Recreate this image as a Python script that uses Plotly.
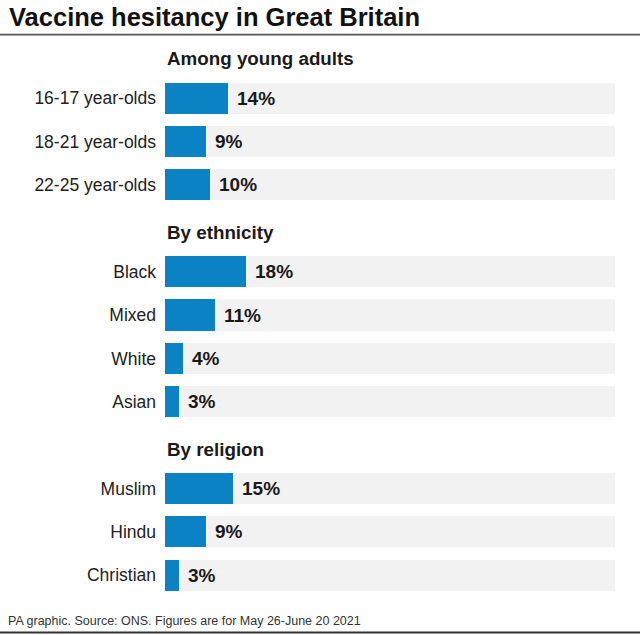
import plotly.graph_objects as go

# ---- data ----
groups = ["Among young adults", "By ethnicity", "By religion"]
group_items = [
    ["16-17 year-olds", "18-21 year-olds", "22-25 year-olds"],
    ["Black", "Mixed", "White", "Asian"],
    ["Muslim", "Hindu", "Christian"],
]
group_values = [
    [14, 9, 10],
    [18, 11, 4, 3],
    [15, 9, 3],
]
full_scale = 100

title = "Vaccine hesitancy in Great Britain"
source = "PA graphic. Source: ONS. Figures are for May 26-June 20 2021"

# ---- build category order (heading rows + item rows) ----
cat_order = []
item_cats, item_vals = [], []
heading_keys = []
for g, items, vals in zip(groups, group_items, group_values):
    key = "__" + g
    heading_keys.append(key)
    cat_order.append(key)
    for it, v in zip(items, vals):
        cat_order.append(it)
        item_cats.append(it)
        item_vals.append(v)

BLUE = "#0a82c3"
GREY = "#f2f2f2"
FONT = "Liberation Sans, Arial, sans-serif"

ML, MR, MT, MB = 165, 25, 33.3, 38
PW, PH = 640 - ML - MR, 635 - MT - MB

def px_y(y):  # page pixel -> paper y
    return (635 - MB - y) / PH

def px_x(x):
    return (x - ML) / PW

fig = go.Figure()
fig.add_trace(go.Bar(
    x=[full_scale] * len(item_cats), y=item_cats, orientation="h",
    marker=dict(color=GREY, line=dict(width=0)), width=0.715,
    hoverinfo="skip", showlegend=False,
))
fig.add_trace(go.Bar(
    x=item_vals, y=item_cats, orientation="h",
    marker=dict(color=BLUE, line=dict(width=0)), width=0.715,
    showlegend=False,
))

annotations = []
for c, v in zip(item_cats, item_vals):
    annotations.append(dict(
        x=v, y=c, xref="x", yref="y", text=f"{v}%", showarrow=False,
        xanchor="left", yanchor="middle", xshift=7,
        font=dict(family=FONT, size=19, color="#1a1a1a", weight="bold"),
    ))
for key, g in zip(heading_keys, groups):
    annotations.append(dict(
        x=0, y=key, xref="x", yref="y", text=g, showarrow=False,
        xanchor="left", yanchor="middle", yshift=-4,
        font=dict(family=FONT, size=18.8, color="#1a1a1a", weight="bold"),
    ))
annotations.append(dict(
    x=px_x(7), y=px_y(17), xref="paper", yref="paper", text=title,
    showarrow=False, xanchor="left", yanchor="middle",
    font=dict(family=FONT, size=25.5, color="#111111", weight="bold"),
))
annotations.append(dict(
    x=px_x(6), y=px_y(621), xref="paper", yref="paper", text=source,
    showarrow=False, xanchor="left", yanchor="middle",
    font=dict(family=FONT, size=12.5, color="#333333"),
))

shapes = [
    dict(type="line", xref="paper", yref="paper",
         x0=px_x(0), x1=px_x(640), y0=px_y(35), y1=px_y(35),
         line=dict(color="#555555", width=1.8)),
    dict(type="line", xref="paper", yref="paper",
         x0=px_x(0), x1=px_x(640), y0=px_y(632.5), y1=px_y(632.5),
         line=dict(color="#333333", width=2)),
]

fig.update_layout(
    width=640, height=635,
    margin=dict(l=ML, r=MR, t=MT, b=MB, autoexpand=False),
    paper_bgcolor="white", plot_bgcolor="white",
    barmode="overlay", bargap=0,
    annotations=annotations, shapes=shapes,
    font=dict(family=FONT, color="#222222"),
)
fig.update_xaxes(range=[0, full_scale], visible=False, fixedrange=True)
fig.update_yaxes(
    type="category", categoryorder="array", categoryarray=cat_order,
    range=[len(cat_order) - 0.5, -0.5],
    tickmode="array", tickvals=item_cats, ticktext=item_cats,
    ticks="", showgrid=False, zeroline=False, showline=False,
    tickfont=dict(family=FONT, size=17.5, color="#222222"),
    ticklabelstandoff=8,
)

fig.write_html(
    "out.html",
    config={"displayModeBar": False},
    post_script="document.body.style.margin='0';document.body.style.overflow='hidden';",
)
